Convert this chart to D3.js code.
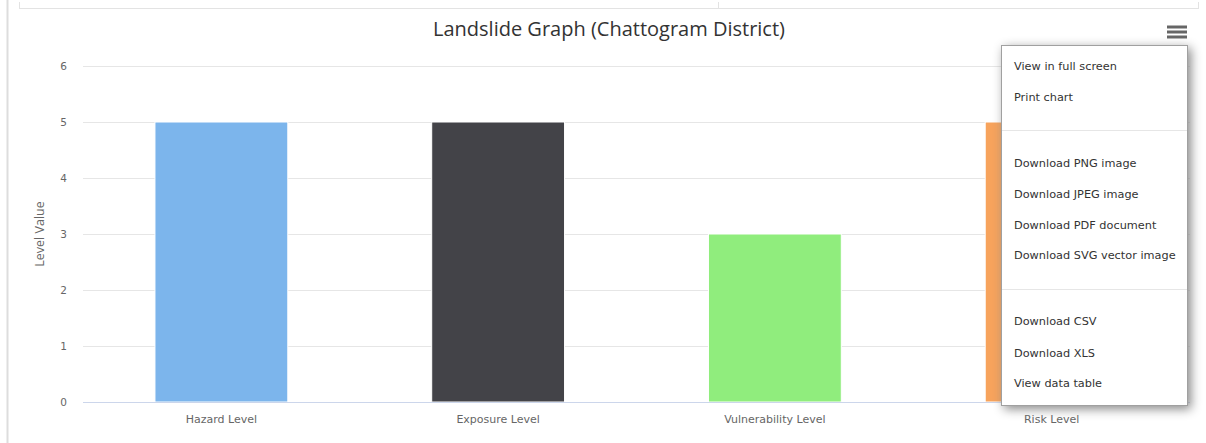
<!DOCTYPE html>
<html>
<head>
<meta charset="utf-8">
<script src="https://cdn.jsdelivr.net/npm/d3@7"></script>
<style>
  body { margin: 0; background: #fff; overflow: hidden; }
  #chart { position: relative; width: 1206px; height: 443px; }
  .menu {
    position: absolute; left: 1001px; top: 45px; width: 185px; height: 359px;
    background: #fff; border: 1px solid #a0a0a0; box-shadow: 3px 3px 10px #888;
    font-family: "DejaVu Sans", Verdana, sans-serif; font-size: 11.3px; color: #333;
  }
  .menu div.item { position: absolute; left: 12px; }
  .menu hr { position: absolute; left: 0; width: 185px; margin: 0; border: none; border-top: 1px solid #e6e6e6; }
</style>
</head>
<body>
<div id="chart"></div>
<script>
const categories = ["Hazard Level", "Exposure Level", "Vulnerability Level", "Risk Level"];
const values = [5, 5, 3, 5];
const colors = ["#7cb5ec", "#434348", "#90ed7d", "#f7a35c"];
const yTicks = [0, 1, 2, 3, 4, 5, 6];
const menuItems = ["View in full screen", "Print chart", null, "Download PNG image", "Download JPEG image",
  "Download PDF document", "Download SVG vector image", null, "Download CSV", "Download XLS", "View data table"];

const width = 1206, height = 443;
const plot = { left: 83, right: 1190, top: 66, bottom: 402 };

const svg = d3.select("#chart").append("svg")
  .attr("width", width)
  .attr("height", height)
  .style("position", "absolute");

// page frame bits around the chart
svg.append("line").attr("x1", 7.5).attr("x2", 7.5).attr("y1", 0).attr("y2", height)
  .attr("stroke", "#ddd").attr("stroke-width", 2);
svg.append("line").attr("x1", 19).attr("x2", 1199).attr("y1", 8.5).attr("y2", 8.5).attr("stroke", "#e3e3e3");
[19.5, 718.5, 1198.5].forEach(x =>
  svg.append("line").attr("x1", x).attr("x2", x).attr("y1", 2).attr("y2", 8).attr("stroke", "#e3e3e3"));

const x = d3.scaleBand().domain(categories).range([plot.left, plot.right]);
const y = d3.scaleLinear().domain([0, 6]).range([plot.bottom, plot.top]);

// grid
svg.append("g")
  .selectAll("line")
  .data(yTicks.filter(d => d > 0))
  .enter()
  .append("line")
  .attr("x1", plot.left).attr("x2", plot.right)
  .attr("y1", d => Math.round(y(d)) + 0.5).attr("y2", d => Math.round(y(d)) + 0.5)
  .attr("stroke", "#e6e6e6");

// y axis
const yAxis = svg.append("g")
  .attr("transform", `translate(${plot.left - 16}, 0.5)`)
  .call(d3.axisLeft(y).tickValues(yTicks).tickFormat(d3.format("d")).tickSize(0).tickPadding(0));
yAxis.select(".domain").remove();
yAxis.selectAll("text")
  .style("font-family", "DejaVu Sans, Verdana, sans-serif")
  .style("font-size", "10.5px")
  .attr("fill", "#666");

svg.append("text")
  .attr("transform", `translate(44, ${(plot.top + plot.bottom) / 2}) rotate(-90)`)
  .attr("text-anchor", "middle")
  .style("font-family", "Open Sans, sans-serif")
  .style("font-size", "12.5px")
  .attr("fill", "#666")
  .text("Level Value");

// bars
const barW = x.bandwidth() * 0.6 * 0.8;
svg.append("g")
  .selectAll("rect")
  .data(categories)
  .enter()
  .append("rect")
  .attr("x", d => x(d) + (x.bandwidth() - barW) / 2)
  .attr("y", (d, i) => y(values[i]))
  .attr("width", barW)
  .attr("height", (d, i) => plot.bottom - y(values[i]))
  .attr("fill", (d, i) => colors[i])
  .attr("stroke", "#fff")
  .attr("stroke-width", 1);

// x axis
const xAxis = svg.append("g")
  .attr("transform", `translate(0, ${plot.bottom})`)
  .call(d3.axisBottom(x).tickSize(0).tickPadding(13));
xAxis.select(".domain").attr("stroke", "#ccd6eb").attr("d", `M${plot.left},0.5H${plot.right}`);
xAxis.selectAll("text")
  .style("font-family", "DejaVu Sans, Verdana, sans-serif")
  .style("font-size", "11px")
  .attr("fill", "#666");

// title
svg.append("text")
  .attr("x", 609).attr("y", 36)
  .attr("text-anchor", "middle")
  .style("font-family", "Open Sans, sans-serif")
  .style("font-size", "20px")
  .attr("fill", "#333")
  .text("Landslide Graph (Chattogram District)");

// hamburger
[27, 32, 37].forEach(yy =>
  svg.append("line").attr("x1", 1167).attr("x2", 1187).attr("y1", yy).attr("y2", yy)
    .attr("stroke", "#666").attr("stroke-width", 3));

// export menu
const menu = d3.select("#chart").append("div").attr("class", "menu");
const itemY = [21, 52, 84, 118, 149, 180, 210, 243, 276, 308, 338];
menuItems.forEach((t, i) => {
  if (t === null) {
    menu.append("hr").style("top", itemY[i] + "px");
  } else {
    menu.append("div").attr("class", "item").style("top", (itemY[i] - 7) + "px").text(t);
  }
});
</script>
</body>
</html>
